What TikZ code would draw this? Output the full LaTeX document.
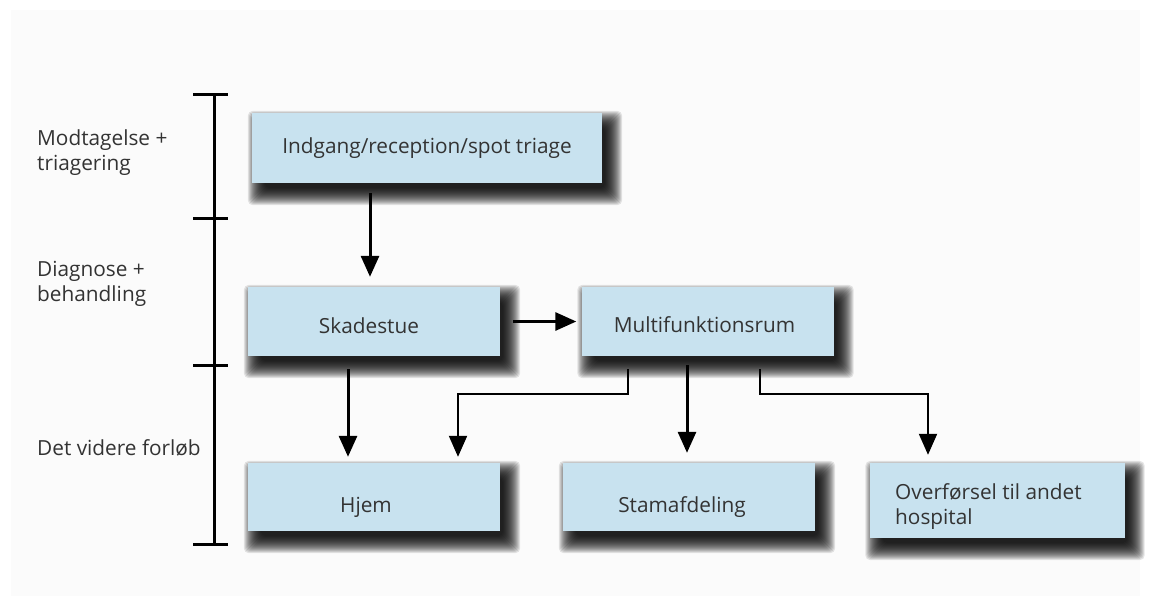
\documentclass[tikz,border=0pt]{standalone}
\usepackage{fontspec}
\setmainfont{Open Sans}
\usetikzlibrary{arrows.meta}
\definecolor{boxfill}{HTML}{C8E2EF}
\definecolor{ink}{HTML}{333333}
\definecolor{pagebg}{HTML}{FBFBFB}
\pgfdeclarelayer{paper}
\pgfdeclarelayer{shade}
\pgfsetlayers{paper,shade,main}
\begin{document}
\begin{tikzpicture}[x=1pt,y=-1pt,
  stagebox/.style={draw=none, fill=boxfill, minimum width=252pt, minimum height=69pt,
    inner sep=0pt, font=\fontsize{20.8}{25}\selectfont, text=ink},
  lbl/.style={font=\fontsize{20.8}{25}\selectfont, text=ink, align=left, inner sep=0pt},
  shadelayer/.style={fill=black, opacity=0.1, rounded corners=5pt},
  thickarrow/.style={line width=3pt, -{Triangle[length=21pt,width=18pt]}},
  elbowarrow/.style={line width=2pt, -{Triangle[length=21pt,width=18pt]}},
  tick/.style={line width=3pt}
]
\useasboundingbox (0,0) rectangle (1150,606);
\begin{pgfonlayer}{paper}
  \fill[white] (0,0) rectangle (1150,606);
  \fill[pagebg] (11,10) rectangle (1140,596);
\end{pgfonlayer}

% phase scale on the left
\coordinate (t0) at (214,94);
\coordinate (t1) at (214,218);
\coordinate (t2) at (214,365);
\coordinate (t3) at (214,544);
\draw[tick] (t0) -- (t3);
\foreach \t in {t0,t1,t2,t3}
  \draw[tick] ([xshift=-21pt]\t) -- ([xshift=14pt]\t);

% phase names (anchored at the baseline of their last line)
\node[lbl, anchor=base west] (phase1) at (37,170) {Modtagelse +\\triagering};
\node[lbl, anchor=base west] (phase2) at (37,301) {Diagnose +\\behandling};
\node[lbl, anchor=base west] (phase3) at (37,455) {Det videre forløb};

% stations
\node[stagebox, minimum width=350pt, minimum height=70pt] (ind) at (427,148) {Indgang/reception/spot triage};
\node[stagebox, label={[lbl, xshift=-5pt, yshift=-4pt]center:Skadestue}] (sk) at (374,321.5) {};
\node[stagebox, label={[lbl, xshift=-3pt, yshift=-3pt]center:Multifunktionsrum}] (mf) at (707.5,321.5) {};
\node[stagebox, minimum height=68pt, label={[lbl, xshift=-8pt, yshift=-10pt]center:Hjem}] (hj) at (374,497) {};
\node[stagebox, minimum height=68pt, label={[lbl, xshift=-7pt, yshift=-10pt]center:Stamafdeling}] (st) at (689,497) {};
\node[stagebox, minimum width=255pt, minimum height=75pt] (ov) at (997,500.5) {};
\node[lbl, anchor=base west] (ovtext) at (895,524) {Overførsel til andet\\hospital};

% soft drop shadows: stacked translucent rectangles behind each station
\begin{pgfonlayer}{shade}
  \foreach \n in {ind,sk,mf,hj,st,ov}
    \foreach \e in {-5,-4,...,12}
      \fill[shadelayer]
        ([xshift=8pt-\e pt, yshift=-10pt+\e pt]\n.north west)
        rectangle ([xshift=8pt+\e pt, yshift=-10pt-\e pt]\n.south east);
\end{pgfonlayer}

% flow connectors
\draw[thickarrow] ([xshift=-57pt,yshift=-10pt]ind.south) -- ([xshift=-4pt,yshift=10pt]sk.north);
\draw[thickarrow] ([xshift=13pt]sk.east) -- ([xshift=-5pt]mf.west);
\draw[thickarrow] ([xshift=-26pt,yshift=-13pt]sk.south) -- ([xshift=-26pt,yshift=6pt]hj.north);
\draw[thickarrow] ([xshift=-20.5pt,yshift=-9pt]mf.south) -- ([xshift=-2pt,yshift=10pt]st.north);
\draw[elbowarrow] ([xshift=-79.5pt,yshift=-13pt]mf.south) |- (458,394) -- ([xshift=84pt,yshift=6pt]hj.north);
\draw[elbowarrow] ([xshift=52.5pt,yshift=-13pt]mf.south) |- (928,394) -- ([xshift=-69pt,yshift=8pt]ov.north);
\end{tikzpicture}
\end{document}
